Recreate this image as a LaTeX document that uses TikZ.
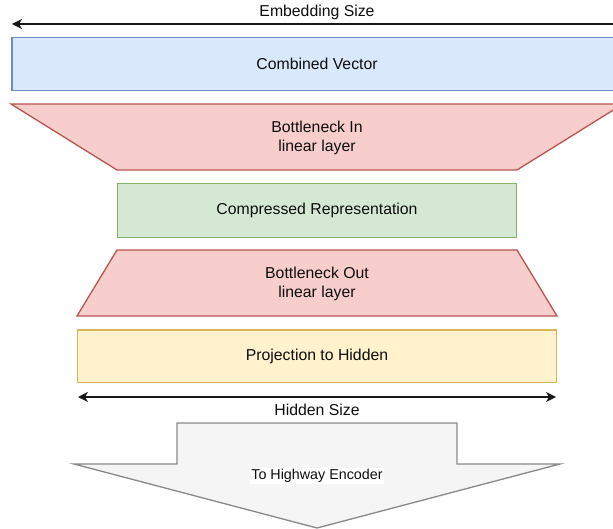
\documentclass[tikz,border=0pt]{standalone}
\usepackage{fontspec}
\setmainfont{Liberation Sans}
\usetikzlibrary{arrows.meta}
\definecolor{blueFill}{HTML}{DAE8FC}
\definecolor{blueLine}{HTML}{6C8EBF}
\definecolor{redFill}{HTML}{F8CECC}
\definecolor{redLine}{HTML}{B85450}
\definecolor{greenFill}{HTML}{D5E8D4}
\definecolor{greenLine}{HTML}{82B366}
\definecolor{yellowFill}{HTML}{FFF2CC}
\definecolor{yellowLine}{HTML}{D6B656}
\definecolor{grayFill}{HTML}{F5F5F5}
\definecolor{grayLine}{HTML}{888888}

\begin{document}
\begin{tikzpicture}[x=1pt,y=-1pt,line width=1.3pt,
  txt/.style={font=\fontsize{15.8}{19}\selectfont,align=center,text=black!95},
  block/.style={txt,draw,rectangle,inner sep=0pt},
  dim/.style={black!90,{Stealth[length=10pt,width=10pt,inset=3pt]}-{Stealth[length=10pt,width=10pt,inset=3pt]}}]
\useasboundingbox (0,0) rectangle (613,529);
\clip (0,0) rectangle (613,529);
% size arrows
\coordinate (embL) at (12,24);
\coordinate (embR) at (623,24);
\coordinate (hidL) at (78,397);
\coordinate (hidR) at (556,397);
\draw[dim] (embL) -- (embR);
\draw[dim] (hidL) -- (hidR);
\node[txt] (embText) at (317,12) {Embedding Size};
\node[txt] (hidText) at (317,410) {Hidden Size};
% layers
\node[block,fill=blueFill,draw=blueLine,minimum width=610pt,minimum height=52.6pt] (combined) at (317,64) {Combined Vector};
\draw[fill=redFill,draw=redLine] (11,104) -- (623,104) -- (517,170) -- (117,170) -- cycle;
\node[txt] (bnIn) at (317,137.5) {Bottleneck In\\linear layer};
\node[block,fill=greenFill,draw=greenLine,minimum width=399pt,minimum height=53.6pt] (compressed) at (317,210.5) {Compressed Representation};
\draw[fill=redFill,draw=redLine] (117,250) -- (517,250) -- (557,316) -- (77,316) -- cycle;
\node[txt] (bnOut) at (317,284) {Bottleneck Out\\linear layer};
\node[block,fill=yellowFill,draw=yellowLine,minimum width=478.7pt,minimum height=52.3pt] (projection) at (317,356) {Projection to Hidden};
% output arrow
\draw[fill=grayFill,draw=grayLine] (177,423) -- (457,423) -- (457,464) -- (560,464) -- (317,528) -- (74,464) -- (177,464) -- cycle;
\node[txt,font=\fontsize{14.3}{17}\selectfont,fill=white,inner sep=1pt] (highway) at (317,476) {To Highway Encoder};
\end{tikzpicture}
\end{document}
